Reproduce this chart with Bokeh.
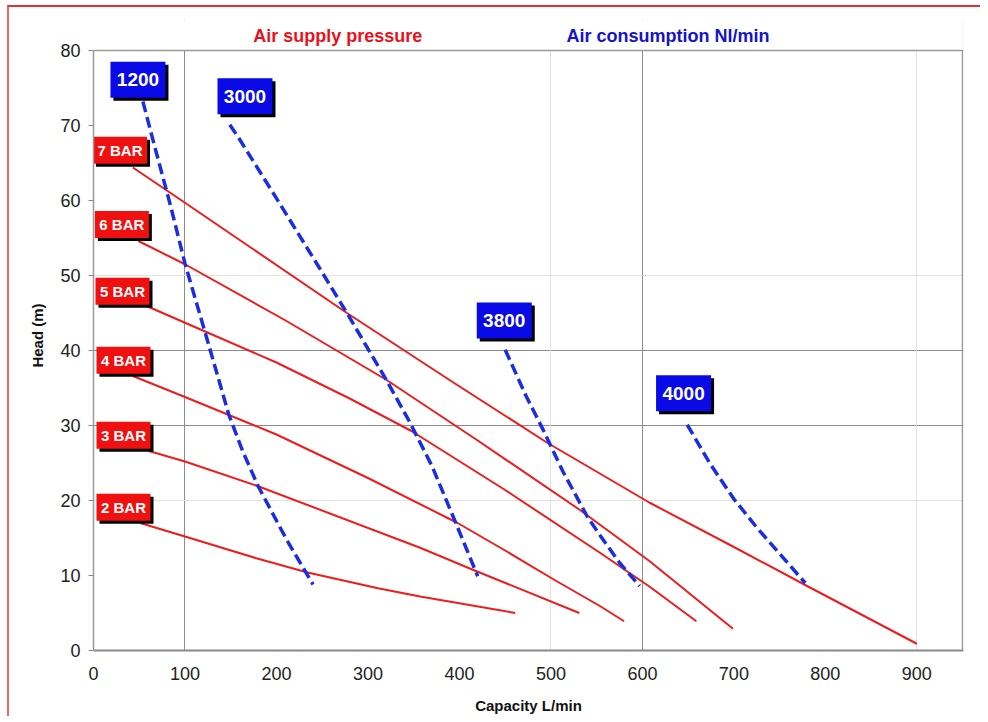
from bokeh.plotting import figure
from bokeh.models import (FixedTicker, Grid, Label, Range1d, BoxAnnotation, Span)
from bokeh.core.properties import value
from bokeh.embed import file_html
from bokeh.resources import INLINE

# ---- pressure curves (Capacity L/min, Head m) ----
bar7_x = [43, 100, 277, 390, 496, 608, 700, 780, 900]
bar7_y = [64.4, 59.7, 45.0, 36.0, 27.7, 19.7, 13.8, 8.6, 0.9]
bar6_x = [49, 100, 210, 320, 420, 531, 608, 699]
bar6_y = [54.6, 51.5, 44.0, 36.1, 28.0, 18.8, 11.9, 2.9]
bar5_x = [58.6, 117, 200, 280, 347, 450, 554, 608, 659]
bar5_y = [45.9, 42.8, 38.4, 33.6, 29.3, 21.4, 13.0, 8.5, 3.9]
bar4_x = [43, 100, 148, 200, 300, 398, 449, 504, 554, 580]
bar4_y = [36.6, 33.8, 31.4, 28.8, 23.0, 17.0, 13.4, 9.4, 5.9, 3.9]
bar3_x = [60.5, 100, 180, 357, 414, 531]
bar3_y = [26.6, 25.2, 21.9, 13.7, 10.8, 5.0]
bar2_x = [51, 100, 178, 234, 311, 357, 461]
bar2_y = [17.0, 15.2, 12.3, 10.4, 8.3, 7.2, 5.0]

# ---- air consumption curves ----
air1200_x = [54, 66, 84, 100, 122, 136, 148, 163, 180, 211, 240]
air1200_y = [73.2, 67.6, 59.4, 51.6, 42.4, 36.5, 31.4, 26.6, 21.9, 14.8, 8.8]
air3000_x = [149, 160, 203, 246, 277, 320, 345, 370, 394, 420]
air3000_y = [70.1, 68.1, 59.7, 51.2, 45.0, 36.1, 30.6, 24.6, 17.6, 9.9]
air3800_x = [450, 473, 492, 513, 540, 554, 575, 597]
air3800_y = [40.1, 33.9, 29.3, 23.9, 17.8, 15.3, 11.7, 8.6]
air4000_x = [649, 674, 700, 725, 750, 778]
air4000_y = [30.1, 24.9, 20.2, 16.4, 12.9, 9.0]

bar_curves = [(bar7_x, bar7_y), (bar6_x, bar6_y), (bar5_x, bar5_y),
              (bar4_x, bar4_y), (bar3_x, bar3_y), (bar2_x, bar2_y)]
air_curves = [(air1200_x, air1200_y), (air3000_x, air3000_y),
              (air3800_x, air3800_y), (air4000_x, air4000_y)]

# ---- labels ----
bar_labels = ["7 BAR", "6 BAR", "5 BAR", "4 BAR", "3 BAR", "2 BAR"]
bar_label_x = [29.0, 31.0, 31.7, 32.8, 32.8, 32.8]
bar_label_y = [66.7, 56.8, 47.9, 38.7, 28.7, 19.1]
air_labels = ["1200", "3000", "3800", "4000"]
air_label_x = [48.6, 165.6, 449, 645]
air_label_y = [76.1, 73.9, 44.0, 34.3]

title_red = "Air supply pressure"
title_blue = "Air consumption Nl/min"
x_title = "Capacity L/min"
y_title = "Head (m)"

x_ticks = [0, 100, 200, 300, 400, 500, 600, 700, 800, 900]
y_ticks = [0, 10, 20, 30, 40, 50, 60, 70, 80]

RED = "#f01010"
BLUE = "#0a0ae6"
LINE_RED = "#ee1c1c"
LINE_BLUE = "#1a2ee0"
FRAME = "#9a9a9a"
FONT = "Liberation Sans"

X_MAX = 951
Y_TOP = 80
Y_MAX = 84

p = figure(frame_width=870, frame_height=630,
           min_border_left=84, min_border_right=17,
           min_border_top=13, min_border_bottom=63,
           x_range=Range1d(0, X_MAX), y_range=Range1d(0, Y_MAX),
           output_backend="svg", toolbar_location=None,
           styles={"border-left": "2px solid #ee6666", "border-top": "2px solid #e83030",
                   "margin-left": "7px", "margin-top": "5px"})

p.background_fill_color = "white"
p.border_fill_color = "white"
p.outline_line_color = None

# grids
p.xgrid.ticker = FixedTicker(ticks=[100, 600])
p.xgrid.grid_line_color = "#8c8c8c"
p.ygrid.ticker = FixedTicker(ticks=[30, 40])
p.ygrid.grid_line_color = "#8c8c8c"
p.add_layout(Grid(dimension=0, ticker=FixedTicker(ticks=[500, 900]), grid_line_color="#e2e2e2"))
p.add_layout(Grid(dimension=1, ticker=FixedTicker(ticks=[20, 50]), grid_line_color="#e2e2e2"))
# right side of the plot frame
p.add_layout(Grid(dimension=0, ticker=FixedTicker(ticks=[950]), grid_line_color=FRAME,
                  grid_line_width=1.5))

# axes
p.xaxis.ticker = FixedTicker(ticks=x_ticks)
p.yaxis.ticker = FixedTicker(ticks=y_ticks)
p.yaxis.bounds = (0, Y_TOP)
for ax in (p.xaxis[0], p.yaxis[0]):
    ax.minor_tick_line_color = None
    ax.major_label_text_font = FONT
    ax.major_label_text_font_size = "18px"
    ax.major_label_text_color = "#222222"
    ax.axis_label_text_font = FONT
    ax.axis_label_text_font_style = "bold"
    ax.axis_label_text_font_size = "15px"
    ax.axis_label_text_color = "#111111"
p.xaxis.major_tick_line_color = None
p.xaxis.major_tick_out = 0
p.xaxis.major_label_standoff = 16
p.xaxis.axis_line_color = "#8a8a8a"
p.xaxis.axis_line_width = 2
p.xaxis.axis_label = x_title
p.xaxis.axis_label_standoff = 14
p.yaxis.major_tick_line_color = "#8a8a8a"
p.yaxis.major_tick_out = 5
p.yaxis.major_tick_in = 0
p.yaxis.major_label_standoff = 8
p.yaxis.axis_line_color = FRAME
p.yaxis.axis_line_width = 1.5
p.yaxis.axis_label = y_title
p.yaxis.axis_label_standoff = 11

# curves
for cx, cy in bar_curves:
    p.line(cx, cy, line_color=LINE_RED, line_width=2)
for cx, cy in air_curves:
    p.line(cx, cy, line_color=LINE_BLUE, line_width=3.5, line_dash="11 5")

# label boxes (shadow offset of 3px converted to data units)
dx = 3 / (870 / X_MAX)
dy = 3 / (630 / Y_MAX)
p.rect([x + dx for x in bar_label_x], [y - dy for y in bar_label_y], width=54, height=27,
       width_units="screen", height_units="screen", fill_color="black", line_color=None)
p.rect(bar_label_x, bar_label_y, width=54, height=27,
       width_units="screen", height_units="screen", fill_color=RED, line_color=None)
p.text(bar_label_x, bar_label_y, text=bar_labels, text_align="center", text_baseline="middle",
       text_color="white", text_font=value(FONT), text_font_style="bold", text_font_size="15px")

p.rect([x + dx for x in air_label_x], [y - dy for y in air_label_y], width=55, height=36,
       width_units="screen", height_units="screen", fill_color="black", line_color=None)
p.rect(air_label_x, air_label_y, width=55, height=36,
       width_units="screen", height_units="screen", fill_color=BLUE, line_color=None)
p.text(air_label_x, air_label_y, text=air_labels, text_align="center", text_baseline="middle",
       text_color="white", text_font=value(FONT), text_font_style="bold", text_font_size="19px")

# blank band above the plot frame, then top edge of frame
p.add_layout(BoxAnnotation(bottom=Y_TOP, fill_color="white", fill_alpha=1.0, line_color=None))
p.add_layout(Span(location=Y_TOP, dimension="width", line_color=FRAME, line_width=1.5))

# titles above the frame
p.add_layout(Label(x=267, y=82, text=title_red, text_align="center", text_baseline="middle",
                   text_color="#e8121c", text_font=FONT, text_font_style="bold",
                   text_font_size="18px"))
p.add_layout(Label(x=628, y=82, text=title_blue, text_align="center", text_baseline="middle",
                   text_color="#1414c8", text_font=FONT, text_font_style="bold",
                   text_font_size="18px"))

open("out.html", "w").write(file_html(p, INLINE))
